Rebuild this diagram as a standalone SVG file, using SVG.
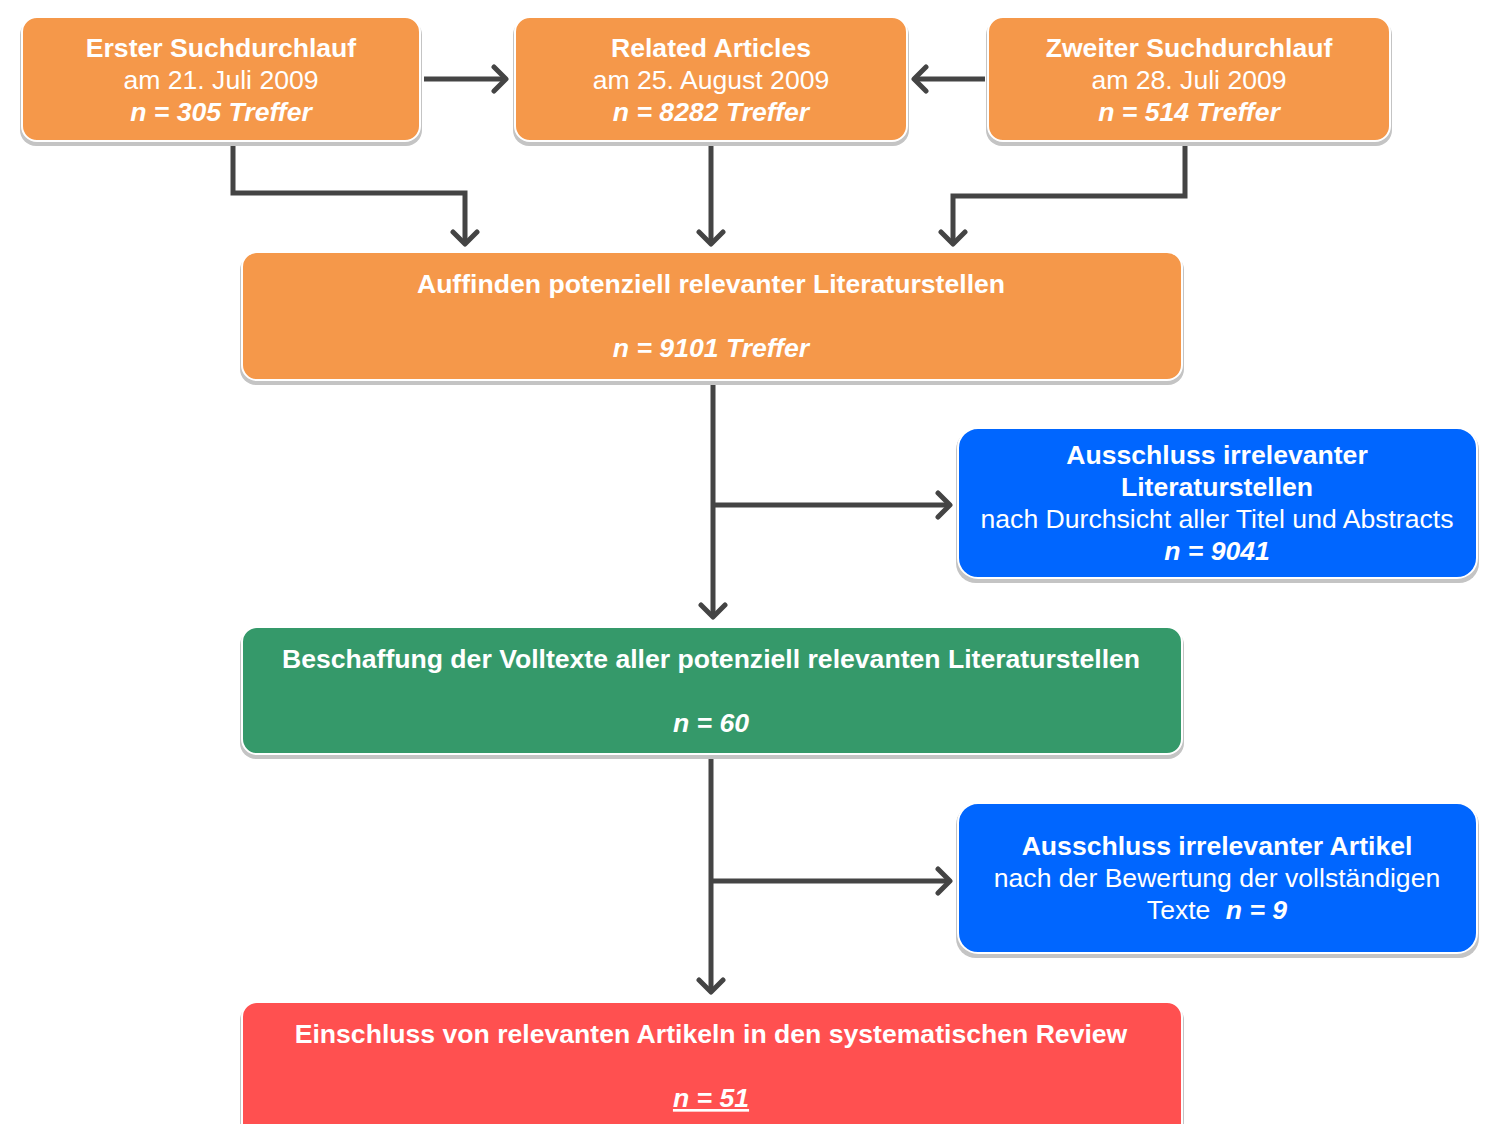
<svg xmlns="http://www.w3.org/2000/svg" width="1490" height="1124" viewBox="0 0 1490 1124">
<defs>
<marker id="ah" markerUnits="userSpaceOnUse" markerWidth="30" markerHeight="30" viewBox="-16 -15 20 30" refX="0" refY="0" orient="auto">
<path d="M-12,-12 L0,0 L-12,12" fill="none" stroke="#444" stroke-width="5" stroke-linecap="round" stroke-linejoin="round"/>
</marker>
</defs>
<style>
text{font-family:"Liberation Sans",Arial,sans-serif;font-size:26.6px;fill:#fff;text-anchor:middle}
.b{font-weight:bold}
.bi{font-weight:bold;font-style:italic}
.sh{fill:#c4c4c4}
.box{stroke:#fff;stroke-width:2}
.or{fill:#F5984A}
.bl{fill:#0066FF}
.gr{fill:#35996A}
.rd{fill:#FF5050}
.c{fill:none;stroke:#444;stroke-width:5}
</style>
<rect width="1490" height="1124" fill="#fff"/>
<g id="connectors">
<path class="c" d="M424,79 H506" marker-end="url(#ah)"/>
<path class="c" d="M985,79 H914" marker-end="url(#ah)"/>
<path class="c" d="M233,145 V193 H465 V244" marker-end="url(#ah)"/>
<path class="c" d="M711,145 V244" marker-end="url(#ah)"/>
<path class="c" d="M1185,145 V196 H953 V244" marker-end="url(#ah)"/>
<path class="c" d="M713,385 V617" marker-end="url(#ah)"/>
<path class="c" d="M713,505 H950" marker-end="url(#ah)"/>
<path class="c" d="M711,758 V992" marker-end="url(#ah)"/>
<path class="c" d="M711,881 H950" marker-end="url(#ah)"/>
</g>
<g id="n1">
<rect class="sh" x="20" y="19" width="402" height="127" rx="16"/>
<rect class="box or" x="22" y="17" width="398" height="124" rx="15"/>
<text x="221" y="57" class="b">Erster Suchdurchlauf</text>
<text x="221" y="89">am 21. Juli 2009</text>
<text x="221" y="121" class="bi">n = 305 Treffer</text>
</g>
<g id="n2">
<rect class="sh" x="513" y="19" width="396" height="127" rx="16"/>
<rect class="box or" x="515" y="17" width="392" height="124" rx="15"/>
<text x="711" y="57" class="b">Related Articles</text>
<text x="711" y="89">am 25. August 2009</text>
<text x="711" y="121" class="bi">n = 8282 Treffer</text>
</g>
<g id="n3">
<rect class="sh" x="986" y="19" width="406" height="127" rx="16"/>
<rect class="box or" x="988" y="17" width="402" height="124" rx="15"/>
<text x="1189" y="57" class="b">Zweiter Suchdurchlauf</text>
<text x="1189" y="89">am 28. Juli 2009</text>
<text x="1189" y="121" class="bi">n = 514 Treffer</text>
</g>
<g id="n4">
<rect class="sh" x="240" y="254" width="944" height="131" rx="16"/>
<rect class="box or" x="242" y="252" width="940" height="128" rx="15"/>
<text x="711" y="293" class="b">Auffinden potenziell relevanter Literaturstellen</text>
<text x="711" y="357" class="bi">n = 9101 Treffer</text>
</g>
<g id="n5">
<rect class="sh" x="956" y="430" width="523" height="153" rx="20"/>
<rect class="box bl" x="958" y="428" width="519" height="150" rx="20"/>
<text x="1217" y="464" class="b">Ausschluss irrelevanter</text>
<text x="1217" y="496" class="b">Literaturstellen</text>
<text x="1217" y="528">nach Durchsicht aller Titel und Abstracts</text>
<text x="1217" y="560" class="bi">n = 9041</text>
</g>
<g id="n6">
<rect class="sh" x="240" y="629" width="944" height="130" rx="16"/>
<rect class="box gr" x="242" y="627" width="940" height="127" rx="15"/>
<text x="711" y="668" class="b">Beschaffung der Volltexte aller potenziell relevanten Literaturstellen</text>
<text x="711" y="732" class="bi">n = 60</text>
</g>
<g id="n7">
<rect class="sh" x="956" y="805" width="523" height="153" rx="20"/>
<rect class="box bl" x="958" y="803" width="519" height="150" rx="20"/>
<text x="1217" y="855" class="b">Ausschluss irrelevanter Artikel</text>
<text x="1217" y="887">nach der Bewertung der vollständigen</text>
<text x="1217" y="919">Texte <tspan class="bi" dx="8">n = 9</tspan></text>
</g>
<g id="n8">
<rect class="sh" x="240" y="1004" width="944" height="140" rx="16"/>
<rect class="box rd" x="242" y="1002" width="940" height="140" rx="15"/>
<text x="711" y="1043" class="b">Einschluss von relevanten Artikeln in den systematischen Review</text>
<text x="711" y="1107" class="bi" text-decoration="underline">n = 51</text>
</g>
</svg>
